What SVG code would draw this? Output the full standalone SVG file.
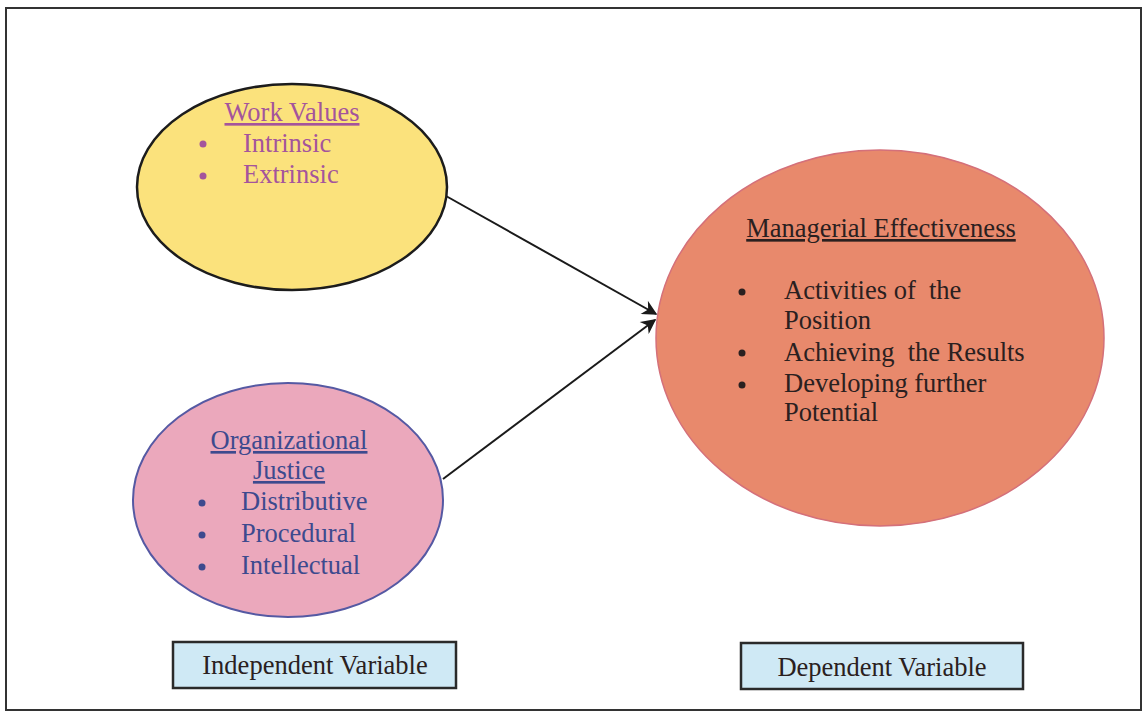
<svg xmlns="http://www.w3.org/2000/svg" width="1148" height="712" viewBox="0 0 1148 712">
  <defs>
    <marker id="arrowhead" viewBox="0 0 10 10" refX="9" refY="5" markerWidth="17" markerHeight="15" markerUnits="userSpaceOnUse" orient="auto">
      <path d="M0,0 L10,5 L0,10 L3,5 Z" fill="#1a1a1a"/>
    </marker>
    <style>
      .t { font-family: "Liberation Serif", "Times New Roman", serif; font-size: 26.5px; white-space: pre; }
      .wv { fill: #a4549c; }
      .oj { fill: #3d4a8e; }
      .me { fill: #2a2020; }
      .u { text-decoration: underline; }
      .conn { stroke: #1a1a1a; stroke-width: 2; fill: none; marker-end: url(#arrowhead); }
      .varbox { fill: #cfe9f5; stroke: #2a2a2a; stroke-width: 2.5; }
    </style>
  </defs>

  <rect x="0" y="0" width="1148" height="712" fill="#ffffff"/>
  <!-- outer frame -->
  <rect x="6" y="8" width="1135" height="702" fill="none" stroke="#333333" stroke-width="2"/>

  <!-- connectors -->
  <g id="connectors">
    <line class="conn" x1="446" y1="196" x2="656" y2="314"/>
    <line class="conn" x1="443" y1="479" x2="655" y2="320"/>
  </g>

  <g id="work-values">
    <ellipse cx="292" cy="187" rx="155" ry="103" fill="#fbe27c" stroke="#1c1c1c" stroke-width="2.5"/>
    <text class="t wv u" x="292" y="121" text-anchor="middle">Work Values</text>
    <circle cx="203" cy="144" r="3.5" fill="#a4549c"/>
    <text class="t wv" x="243" y="152">Intrinsic</text>
    <circle cx="203" cy="176" r="3.5" fill="#a4549c"/>
    <text class="t wv" x="243" y="183">Extrinsic</text>
  </g>

  <g id="organizational-justice">
    <ellipse cx="288" cy="500" rx="155" ry="117" fill="#eba8bc" stroke="#5559a3" stroke-width="2"/>
    <text class="t oj u" x="289" y="449" text-anchor="middle">Organizational</text>
    <text class="t oj u" x="289" y="479" text-anchor="middle">Justice</text>
    <circle cx="202" cy="503" r="3.5" fill="#3d4a8e"/>
    <text class="t oj" x="241" y="510">Distributive</text>
    <circle cx="202" cy="535" r="3.5" fill="#3d4a8e"/>
    <text class="t oj" x="241" y="542">Procedural</text>
    <circle cx="202" cy="567" r="3.5" fill="#3d4a8e"/>
    <text class="t oj" x="241" y="574">Intellectual</text>
  </g>

  <g id="managerial-effectiveness">
    <ellipse cx="880" cy="338" rx="224" ry="188" fill="#e8896c" stroke="#d4707a" stroke-width="1.5"/>
    <text class="t me u" x="881" y="237" text-anchor="middle">Managerial Effectiveness</text>
    <circle cx="742" cy="292" r="3.5" fill="#2a2020"/>
    <text class="t me" x="784" y="299">Activities of  the</text>
    <text class="t me" x="784" y="329">Position</text>
    <circle cx="742" cy="353" r="3.5" fill="#2a2020"/>
    <text class="t me" x="784" y="361">Achieving  the Results</text>
    <circle cx="742" cy="385" r="3.5" fill="#2a2020"/>
    <text class="t me" x="784" y="392">Developing further</text>
    <text class="t me" x="784" y="421">Potential</text>
  </g>

  <g id="independent-variable">
    <rect class="varbox" x="173" y="642" width="283" height="46"/>
    <text class="t me" x="315" y="674" text-anchor="middle">Independent Variable</text>
  </g>

  <g id="dependent-variable">
    <rect class="varbox" x="741" y="643" width="282" height="46"/>
    <text class="t me" x="882" y="676" text-anchor="middle">Dependent Variable</text>
  </g>
</svg>
